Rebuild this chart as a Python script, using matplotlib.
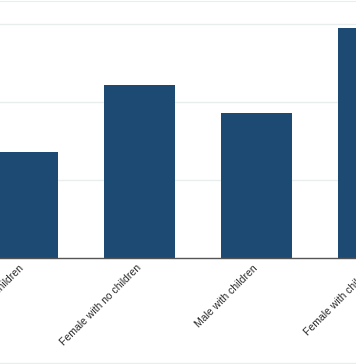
import matplotlib
matplotlib.use("Agg")
from matplotlib import pyplot as plt
from matplotlib.lines import Line2D

categories = ["Male with no children", "Female with no children",
              "Male with children", "Female with children"]
values = [13.6, 22.2, 18.5, 29.4]
grid_values = [10, 20, 30]

plt.rcParams['font.family'] = ['Liberation Sans', 'DejaVu Sans']

fig = plt.figure(figsize=(3.56, 3.64), dpi=100)
# the picture is a crop: the axes run past the left and right edges
ax = fig.add_axes([-0.1011, 0.2912, 1.3146, 0.7060])

ax.bar(range(len(categories)), values, width=0.607, color="#1c4a72", zorder=2)

ax.set_xticks(range(len(categories)))
ax.set_xticklabels(categories, rotation=45, ha="right", va="center",
                   rotation_mode="anchor", fontsize=7.5, color="#2a2a2a")
ax.set_xlim(-0.5, 3.5)
ax.set_ylim(0, 32.9)
ax.set_yticks(grid_values)
ax.yaxis.grid(True, color="#e8eded", linewidth=1, zorder=0)
ax.tick_params(axis="y", left=False, labelleft=False)
ax.tick_params(axis="x", length=0, pad=6)

for side in ["left", "right"]:
    ax.spines[side].set_visible(False)
ax.spines["top"].set_color("#e8eded")
ax.spines["bottom"].set_color("#555555")
ax.spines["bottom"].set_linewidth(1)

fig.add_artist(Line2D([0, 1], [0.003, 0.003], color="#e8eded", linewidth=1))

fig.savefig("out.png", dpi=100)
